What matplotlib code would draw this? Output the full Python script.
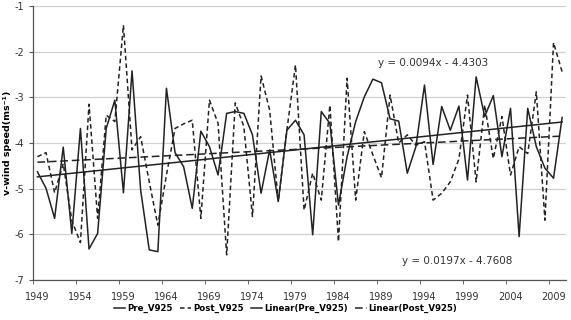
import numpy as np
import matplotlib
matplotlib.use('Agg')
from matplotlib import pyplot as plt

# years on the x axis
years = list(range(1949, 2011))

# v-wind at 925 hPa
pre_v925 = [-4.63, -4.99, -5.65, -4.09, -5.98, -3.68, -6.32, -5.98, -3.68, -3.06,
            -5.09, -2.42, -5.03, -6.34, -6.38, -2.80, -4.21, -4.52, -5.43, -3.74,
            -4.08, -4.70, -3.35, -3.31, -3.35, -3.82, -5.10, -4.15, -5.28, -3.72,
            -3.50, -3.82, -6.01, -3.31, -3.57, -5.36, -4.30, -3.53, -2.99, -2.60,
            -2.68, -3.47, -3.52, -4.66, -4.08, -2.73, -4.47, -3.20, -3.72, -3.19,
            -4.81, -2.55, -3.42, -2.96, -4.30, -3.24, -6.05, -3.24, -4.08, -4.55,
            -4.77, -3.44]

post_v925 = [-4.30, -4.21, -5.09, -4.45, -5.70, -6.18, -3.15, -5.65, -3.39, -3.53,
             -1.42, -4.15, -3.86, -4.85, -5.80, -4.70, -3.68, -3.58, -3.50, -5.65,
             -3.06, -3.57, -6.45, -3.12, -3.64, -5.61, -2.53, -3.28, -5.28, -3.72,
             -2.29, -5.47, -4.66, -5.25, -3.17, -6.16, -2.58, -5.25, -3.75, -4.26,
             -4.76, -2.95, -4.00, -3.82, -4.05, -3.97, -5.25, -5.10, -4.85, -4.35,
             -2.95, -4.85, -3.17, -4.34, -3.42, -4.70, -4.08, -4.23, -2.88, -5.69,
             -1.80, -2.44]

# trend equations as printed on the chart (x = 1, 2, ...)
pre_slope, pre_icpt = 0.0197, -4.7608
post_slope, post_icpt = 0.0094, -4.4303

tick_years = list(range(1949, 2010, 5))

fig = plt.figure(figsize=(5.71, 3.2), dpi=100)
ax = fig.add_axes([0.058, 0.125, 0.934, 0.856])

yrs = np.array(years)
idx = np.arange(1, len(years) + 1)
lc = '#222222'

ax.plot(yrs, pre_v925, color=lc, lw=1.1, ls='-', label='Pre_V925')
ax.plot(yrs, post_v925, color=lc, lw=1.1, ls=(0, (3, 2)), label='Post_V925')
ax.plot(yrs, pre_slope * idx + pre_icpt, color=lc, lw=1.1, ls='-',
        label='Linear(Pre_V925)')
ax.plot(yrs, post_slope * idx + post_icpt, color=lc, lw=1.1, ls=(0, (5, 2.5)),
        label='Linear(Post_V925)')

ax.text(1988.6, -2.25, 'y = 0.0094x - 4.4303', fontsize=7.5, color='#333333',
        va='center')
ax.text(1991.4, -6.58, 'y = 0.0197x - 4.7608', fontsize=7.5, color='#333333',
        va='center')

ax.set_xlim(1948.5, 2010.5)
ax.set_ylim(-7, -1)
ax.set_yticks(range(-7, 0))
ax.set_yticklabels([str(v) for v in range(-7, 0)])
ax.yaxis.grid(True, color='#d0d0d0', lw=0.9)
ax.set_axisbelow(True)

# labels centred on the year, tick marks on the boundaries
ax.set_xticks(tick_years)
ax.set_xticklabels([str(y) for y in tick_years])
ax.set_xticks([y - 0.5 for y in tick_years], minor=True)
ax.tick_params(axis='x', which='major', length=0, pad=9, labelsize=7,
               labelcolor='#333333')
ax.tick_params(axis='x', which='minor', length=3, color='#555555')
ax.tick_params(axis='y', length=3, labelsize=7, labelcolor='#333333',
               color='#555555')

for s in ['top', 'right']:
    ax.spines[s].set_visible(False)
for s in ['left', 'bottom']:
    ax.spines[s].set_color('#555555')
    ax.spines[s].set_linewidth(0.9)

ax.set_ylabel('v-wind speed(ms\u207b\u00b9)', fontsize=6.8, fontweight='bold')
ax.yaxis.set_label_coords(-0.039, 0.5)

fig.legend(*ax.get_legend_handles_labels(), loc='center',
           bbox_to_anchor=(0.5, 0.037), ncol=4, frameon=False,
           handlelength=1.3, handletextpad=0.2, columnspacing=0.9,
           prop={'size': 6.2, 'weight': 'bold'})

fig.savefig('out.png', dpi=100)
